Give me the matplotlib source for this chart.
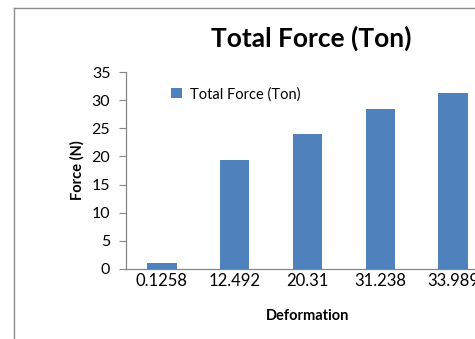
import matplotlib
matplotlib.use("Agg")
import matplotlib.pyplot as plt
from matplotlib.lines import Line2D

categories = ["0.1258", "12.492", "20.31", "31.238", "33.989"]
values = [1.1, 19.3, 23.9, 28.5, 31.2]
yticks = [0, 5, 10, 15, 20, 25, 30, 35]

W, H = 475, 339
dpi = 100
plt.rcParams['font.family'] = ['Lato', 'DejaVu Sans']
fig = plt.figure(figsize=(W / dpi, H / dpi), dpi=dpi)

left, right = 125.6, 489.4
bottom, top = 269, 72
ax = fig.add_axes([left / W, 1 - bottom / H, (right - left) / W, (bottom - top) / H])

x = list(range(len(categories)))
bars = ax.bar(x, values, width=0.4, color="#4F81BD", label="Total Force (Ton)", zorder=3)
ax.set_xlim(-0.5, len(categories) - 0.5)
ax.set_ylim(0, 35)
ax.set_yticks(yticks)
ax.set_yticklabels([str(t) for t in yticks], fontsize=11.5)
ax.set_xticks(x)
ax.set_xticklabels(categories, fontsize=12)

for s in ["top", "right"]:
    ax.spines[s].set_visible(False)
for s in ["left", "bottom"]:
    ax.spines[s].set_color("#868686")
    ax.spines[s].set_linewidth(0.9)
ax.tick_params(axis="y", direction="out", length=5, color="#868686", pad=6)
ax.tick_params(axis="x", length=0, pad=3)

ax.set_ylabel("Force (N)", fontsize=10.5, fontweight="bold", labelpad=5)
ax.set_xlabel("Deformation", fontsize=10.5, fontweight="bold", labelpad=14)

fig.text(311 / W, 1 - 38 / H, "Total Force (Ton)", fontsize=19, fontweight="bold",
         ha="center", va="center")

leg = ax.legend(loc="upper left", bbox_to_anchor=(0.09, 0.99), frameon=False,
                fontsize=10.5, handlelength=0.7, handleheight=0.7, handletextpad=0.6)

# outer chart frame
fig.add_artist(Line2D([13.5 / W, 13.5 / W], [0, 1 - 7.5 / H], transform=fig.transFigure,
                      color="#8c8c8c", linewidth=1))
fig.add_artist(Line2D([13.5 / W, 1], [1 - 7.5 / H, 1 - 7.5 / H], transform=fig.transFigure,
                      color="#8c8c8c", linewidth=1))

fig.savefig("out.png", dpi=dpi)
